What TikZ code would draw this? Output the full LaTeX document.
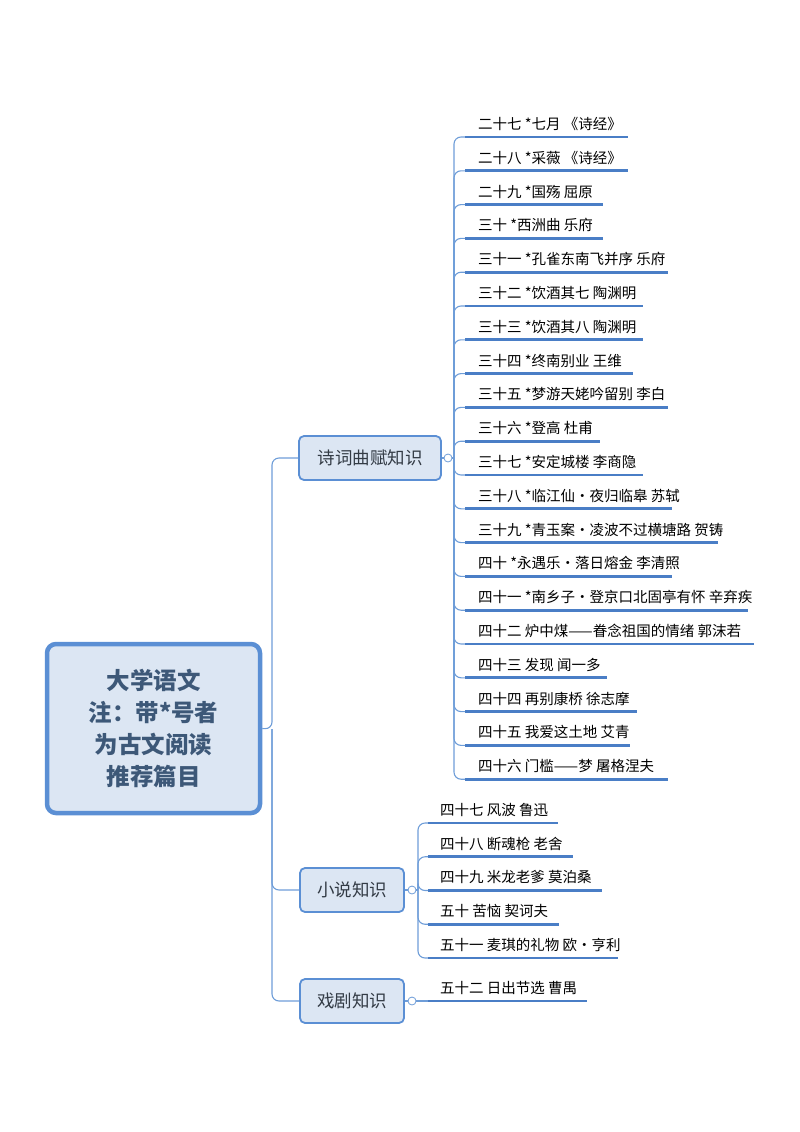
\documentclass[tikz,border=0pt]{standalone}
\usepackage{fontspec}
\setmainfont{Noto Sans CJK SC}
\begin{document}
\begin{tikzpicture}[x=1pt,y=-1pt,
  conn/.style={draw=lk,line width=1.1pt,rounded corners=7pt},
  uline/.style={draw=ul,line width=2.8pt},
  leaf/.style={anchor=west,inner sep=0pt,font=\fontsize{14.5}{16}\selectfont,text=black},
  branch/.style={draw=bd,line width=1.8pt,fill=bf,rounded corners=5pt,minimum height=44pt,font=\fontsize{17.5}{20}\selectfont,text=tx},
  knob/.style={circle,draw=lk,line width=0.8pt,fill=white,minimum size=8pt,inner sep=0pt}]
\definecolor{lk}{HTML}{6E9DD8}
\definecolor{ul}{HTML}{4A7EC6}
\definecolor{bd}{HTML}{5B8FD4}
\definecolor{bf}{HTML}{DCE6F3}
\definecolor{tx}{HTML}{333B45}
\definecolor{rt}{HTML}{3D5878}
\useasboundingbox (0,0) rectangle (800,1132);
\node[draw=bd,line width=4.5pt,fill=bf,rounded corners=9pt,minimum width=213pt,minimum height=169pt,align=center,
  font=\fontsize{23.5}{32}\selectfont\bfseries,text=rt] (root) at (153.5,728.5) {大学语文\\注：带*号者\\为古文阅读\\推荐篇目};
\node[branch,minimum width=142pt] (b1) at (370,458) {诗词曲赋知识};
\node[branch,minimum width=104pt] (b2) at (352,890) {小说知识};
\node[branch,minimum width=104pt] (b3) at (352,1001) {戏剧知识};
\coordinate (t) at (272,729);
\draw[conn] (root.east) -- (t) |- (b1.west);
\draw[conn] (t) |- (b2.west);
\draw[conn] (t) |- (b3.west);
\node[knob] (k1) at (448,458) {};
\node[knob] (k2) at (412,890) {};
\node[knob] (k3) at (412,1001) {};
\draw[conn] (b1.east) -- (k1.west);
\draw[conn] (b2.east) -- (k2.west);
\draw[conn] (b3.east) -- (k3.west);
% branch 1 leaves
\coordinate (v1) at (454,458);
\draw[conn] (k1.east) -- (v1);
\foreach \t/\e [count=\i] in {
{二十七 *七月 《诗经》}/628,{二十八 *采薇 《诗经》}/628,{二十九 *国殇 屈原}/603,{三十 *西洲曲 乐府}/603,
{三十一 *孔雀东南飞并序 乐府}/668,{三十二 *饮酒其七 陶渊明}/643,{三十三 *饮酒其八 陶渊明}/643,{三十四 *终南别业 王维}/633,
{三十五 *梦游天姥吟留别 李白}/668,{三十六 *登高 杜甫}/600,{三十七 *安定城楼 李商隐}/643,{三十八 *临江仙·夜归临皋 苏轼}/672,
{三十九 *青玉案·凌波不过横塘路 贺铸}/718,{四十 *永遇乐·落日熔金 李清照}/672,{四十一 *南乡子·登京口北固亭有怀 辛弃疾}/748,
{四十二 炉中煤——眷念祖国的情绪 郭沫若}/754,{四十三 发现 闻一多}/607,{四十四 再别康桥 徐志摩}/637,{四十五 我爱这土地 艾青}/630,
{四十六 门槛——梦 屠格涅夫}/668}{
  \pgfmathsetmacro{\yy}{137+(\i-1)*33.8}
  \coordinate (a\i) at (465,\yy);
  \coordinate (e\i) at (\e,\yy);
  \node[leaf] (l\i) at (478,\yy-13) {\t};
  \draw[conn] (v1) |- (a\i);
  \draw[uline] (a\i) -- (e\i);
}
% branch 2 leaves
\coordinate (v2) at (418,890);
\draw[conn] (k2.east) -- (v2);
\foreach \t/\e [count=\i] in {
{四十七 风波 鲁迅}/558,{四十八 断魂枪 老舍}/573,{四十九 米龙老爹 莫泊桑}/602,{五十 苦恼 契诃夫}/559,{五十一 麦琪的礼物 欧·亨利}/618}{
  \pgfmathsetmacro{\yy}{823+(\i-1)*33.75}
  \coordinate (m\i) at (428,\yy);
  \coordinate (n\i) at (\e,\yy);
  \node[leaf] (s\i) at (440,\yy-13) {\t};
  \draw[conn] (v2) |- (m\i);
  \draw[uline] (m\i) -- (n\i);
}
% branch 3 leaf
\coordinate (p1) at (428,1001);
\coordinate (q1) at (587,1001);
\node[leaf] (d1) at (440,988) {五十二 日出节选 曹禺};
\draw[conn] (k3.east) -- (p1);
\draw[uline] (p1) -- (q1);
\end{tikzpicture}
\end{document}
